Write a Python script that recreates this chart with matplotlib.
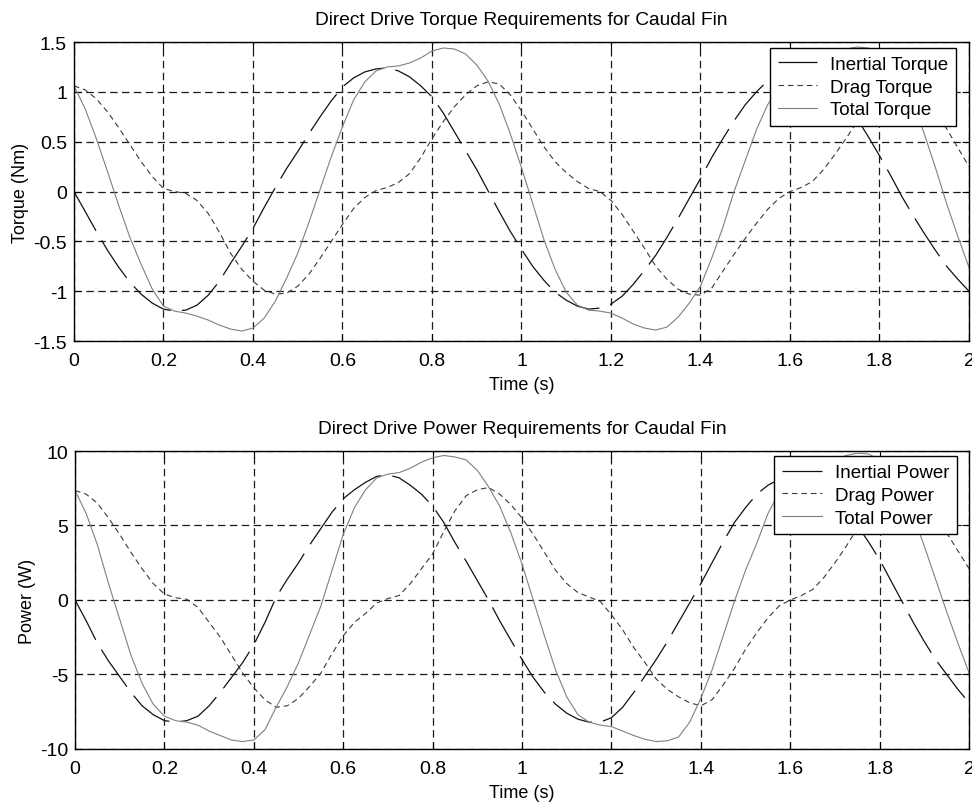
import numpy as np
import matplotlib
matplotlib.use("Agg")
import matplotlib.pyplot as plt
from matplotlib.ticker import FuncFormatter

plt.rcParams["font.family"] = ["Liberation Sans", "DejaVu Sans"]
plt.rcParams["axes.unicode_minus"] = False

# Zeitachse (s): Abtastpunkte alle 0.025 s
t = np.linspace(0, 2, 81)

# Drehmomente (Nm)
inertial_torque = [
    0.00, -0.20, -0.40, -0.59, -0.76, -0.91, -1.03, -1.12, -1.18, -1.20,
    -1.19, -1.14, -1.04, -0.90, -0.72, -0.55, -0.37, -0.16, 0.04, 0.23,
    0.40, 0.58, 0.75, 0.91, 1.05, 1.14, 1.20, 1.23, 1.24, 1.21,
    1.15, 1.06, 0.95, 0.79, 0.60, 0.41, 0.22, 0.01, -0.20, -0.40,
    -0.58, -0.75, -0.89, -1.01, -1.09, -1.15, -1.18, -1.17, -1.13, -1.05,
    -0.93, -0.79, -0.64, -0.46, -0.27, -0.07, 0.13, 0.34, 0.53, 0.71,
    0.87, 1.00, 1.11, 1.18, 1.23, 1.24, 1.22, 1.15, 1.05, 0.90,
    0.73, 0.55, 0.36, 0.16, -0.05, -0.24, -0.42, -0.59, -0.75, -0.88,
    -1.00]
drag_torque = [
    1.06, 1.02, 0.93, 0.80, 0.64, 0.47, 0.30, 0.15, 0.03, 0.00,
    -0.02, -0.09, -0.22, -0.41, -0.62, -0.78, -0.90, -0.99, -1.03, -1.02,
    -0.95, -0.83, -0.67, -0.50, -0.33, -0.17, -0.06, 0.01, 0.04, 0.09,
    0.18, 0.34, 0.53, 0.70, 0.85, 0.97, 1.06, 1.10, 1.08, 0.97,
    0.81, 0.63, 0.45, 0.30, 0.19, 0.10, 0.03, 0.00, -0.09, -0.23,
    -0.40, -0.57, -0.75, -0.88, -0.98, -1.03, -1.04, -0.97, -0.80, -0.63,
    -0.47, -0.32, -0.18, -0.07, 0.00, 0.04, 0.10, 0.22, 0.37, 0.53,
    0.70, 0.86, 1.00, 1.07, 1.10, 1.06, 0.95, 0.80, 0.63, 0.44,
    0.25]
total_torque = [
    1.06, 0.83, 0.53, 0.20, -0.14, -0.46, -0.73, -0.98, -1.15, -1.20,
    -1.22, -1.25, -1.29, -1.34, -1.38, -1.40, -1.37, -1.27, -1.10, -0.87,
    -0.62, -0.31, 0.02, 0.35, 0.65, 0.92, 1.10, 1.21, 1.25, 1.26,
    1.29, 1.34, 1.41, 1.44, 1.43, 1.38, 1.27, 1.11, 0.88, 0.58,
    0.24, -0.12, -0.48, -0.78, -1.01, -1.14, -1.19, -1.20, -1.22, -1.27,
    -1.33, -1.37, -1.39, -1.36, -1.26, -1.12, -0.95, -0.67, -0.36, 0.00,
    0.31, 0.62, 0.87, 1.05, 1.19, 1.26, 1.29, 1.33, 1.38, 1.43,
    1.45, 1.44, 1.38, 1.29, 1.15, 0.90, 0.58, 0.24, -0.12, -0.45,
    -0.76]

# Leistungen (W)
inertial_power = [
    0.0, -1.4, -2.9, -4.1, -5.15, -6.2, -7.1, -7.7, -8.1, -8.2,
    -8.1, -7.8, -7.1, -6.2, -5.2, -4.2, -3.0, -1.5, 0.2, 1.4,
    2.5, 3.7, 4.8, 5.9, 6.8, 7.4, 7.9, 8.3, 8.4, 8.2,
    7.7, 7.1, 6.3, 5.2, 3.85, 2.6, 1.3, 0.0, -1.4, -2.7,
    -4.0, -5.2, -6.2, -7.0, -7.6, -8.0, -8.2, -8.2, -7.9, -7.2,
    -6.2, -5.1, -4.0, -2.8, -1.5, -0.2, 1.1, 2.5, 3.9, 5.2,
    6.2, 7.1, 7.7, 8.1, 8.3, 8.4, 8.2, 7.7, 7.0, 6.1,
    5.0, 3.9, 2.7, 1.3, -0.1, -1.5, -2.8, -4.0, -5.0, -6.0,
    -6.9]
drag_power = [
    7.35, 7.1, 6.5, 5.5, 4.4, 3.2, 2.1, 1.1, 0.4, 0.15,
    0.05, -0.5, -1.5, -2.5, -3.7, -4.9, -5.9, -6.7, -7.2, -7.1,
    -6.6, -5.8, -4.9, -3.6, -2.4, -1.5, -0.9, -0.2, 0.1, 0.3,
    1.1, 2.1, 3.1, 4.6, 6.0, 7.0, 7.4, 7.55, 7.1, 6.4,
    5.5, 4.4, 3.2, 2.0, 1.1, 0.5, 0.2, -0.1, -1.0, -2.0,
    -3.2, -4.2, -5.3, -6.0, -6.5, -6.9, -7.1, -6.7, -5.7, -4.6,
    -3.3, -2.2, -1.2, -0.4, 0.0, 0.3, 0.7, 1.5, 2.5, 3.6,
    4.8, 5.9, 6.9, 7.3, 7.5, 7.3, 6.8, 5.8, 4.5, 3.3,
    2.1]
total_power = [
    7.35, 5.8, 3.7, 1.1, -1.3, -3.7, -5.6, -7.0, -7.8, -8.1,
    -8.2, -8.4, -8.8, -9.1, -9.4, -9.5, -9.4, -8.7, -7.2, -5.8,
    -4.2, -2.3, -0.4, 2.0, 4.4, 6.2, 7.4, 8.2, 8.45, 8.55,
    8.85, 9.25, 9.55, 9.7, 9.6, 9.4, 8.7, 7.6, 6.3, 4.5,
    2.4, 0.0, -2.4, -4.7, -6.5, -7.7, -8.2, -8.4, -8.5, -8.8,
    -9.1, -9.35, -9.5, -9.45, -9.2, -8.2, -6.6, -4.7, -2.4, -0.1,
    2.0, 3.8, 5.8, 7.2, 8.2, 8.6, 8.8, 9.1, 9.4, 9.7,
    9.85, 9.8, 9.4, 8.6, 7.4, 5.7, 3.6, 1.4, -0.8, -2.9,
    -4.9]

fig = plt.figure(figsize=(9.72, 8.04), dpi=100)
ax1 = fig.add_axes([0.0761, 0.5746, 0.9208, 0.3719])
ax2 = fig.add_axes([0.0772, 0.0672, 0.9198, 0.3706])

fmt = FuncFormatter(lambda v, p: "%g" % v)


def style_axes(ax, title, ylabel, yticks):
    ax.set_xlim(0, 2)
    ax.set_ylim(yticks[0], yticks[-1])
    ax.set_xticks(np.arange(0, 2.01, 0.2))
    ax.set_yticks(yticks)
    ax.xaxis.set_major_formatter(fmt)
    ax.yaxis.set_major_formatter(fmt)
    ax.grid(True, color="#1a1a1a", linestyle=(0, (6, 3.5)), linewidth=0.9)
    ax.tick_params(direction="in", length=5, width=0.8, labelsize=14,
                   top=True, right=True)
    ax.tick_params(axis="x", pad=8)
    ax.tick_params(axis="y", pad=5)
    for s in ax.spines.values():
        s.set_linewidth(1.0)
    ax.set_title(title, fontsize=13.8, pad=13)
    ax.set_xlabel("Time (s)", fontsize=13, labelpad=5)
    ax.set_ylabel(ylabel, fontsize=13, labelpad=3)


ax1.plot(t, inertial_torque, color="#111111", linewidth=0.9, dashes=(36, 9),
         label="Inertial Torque")
ax1.plot(t, drag_torque, color="#3a3a3a", linewidth=0.8, dashes=(5, 3.5),
         label="Drag Torque")
ax1.plot(t, total_torque, color="#808080", linewidth=0.8, label="Total Torque")
style_axes(ax1, "Direct Drive Torque Requirements for Caudal Fin", "Torque (Nm)",
           [-1.5, -1, -0.5, 0, 0.5, 1, 1.5])

ax2.plot(t, inertial_power, color="#111111", linewidth=0.9, dashes=(36, 9),
         label="Inertial Power")
ax2.plot(t, drag_power, color="#3a3a3a", linewidth=0.8, dashes=(5, 3.5),
         label="Drag Power")
ax2.plot(t, total_power, color="#808080", linewidth=0.8, label="Total Power")
style_axes(ax2, "Direct Drive Power Requirements for Caudal Fin", "Power (W)",
           [-10, -5, 0, 5, 10])

for ax, anchor in [(ax1, (0.9855, 0.980)), (ax2, (0.9866, 0.983))]:
    leg = ax.legend(loc="upper right", bbox_to_anchor=anchor, fontsize=13.5,
                    fancybox=False, framealpha=1, edgecolor="black",
                    handlelength=2.1, labelspacing=0.3, borderpad=0.42,
                    handletextpad=0.7, borderaxespad=0)
    leg.get_frame().set_linewidth(1.0)

fig.savefig("out.png", dpi=100)
